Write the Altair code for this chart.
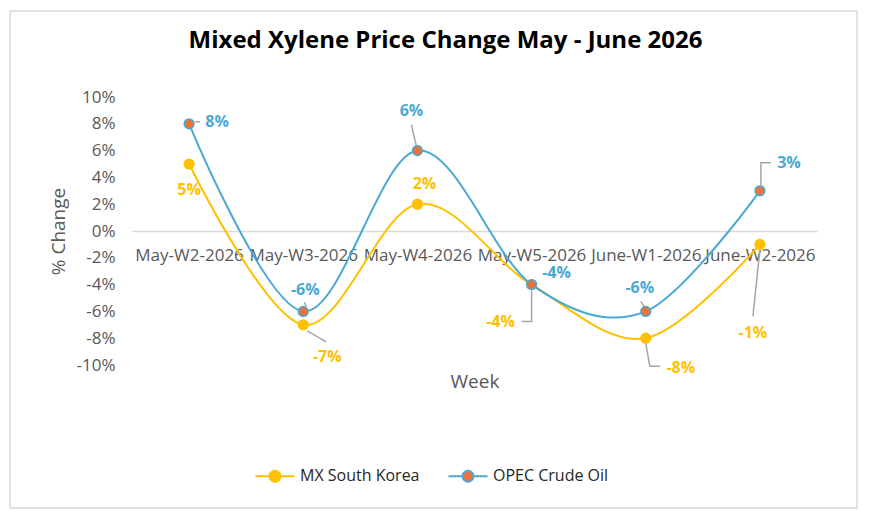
import json
import altair as alt
import pandas as pd

# ---------------- data ----------------
weeks = ["May-W2-2026", "May-W3-2026", "May-W4-2026", "May-W5-2026", "June-W1-2026", "June-W2-2026"]
mx_south_korea = [5, -7, 2, -4, -8, -1]
opec_crude_oil = [8, -6, 6, -4, -6, 3]
series_names = ["MX South Korea", "OPEC Crude Oil"]

# ---------------- style ----------------
FONT = "Open Sans"
YELLOW = "#FFC000"
BLUE = "#4AA8D4"
ORANGE = "#E8743B"
GREY_TXT = "#595959"
LEADER = "#A6A6A6"
W, H = 685, 268
PX_X = W / len(weeks)   # px per category
PX_Y = H / 20.0         # px per 1 %

# label offsets (pixels from the point) and leader polylines (pixel offsets)
label_off = {
    "MX South Korea": [(0, 26), (24, 32), (7, -20), (-31, 37), (35, 30), (-7, 89)],
    "OPEC Crude Oil": [(28, -2), (2, -21), (-6, -40), (25, -12), (-6, -23), (29, -28)],
}
leader_off = {
    "MX South Korea": [None, [(4, 6), (23, 17)], None, [(0, 6), (0, 37), (-10, 37)],
                       [(0, 5), (4, 28), (14, 28)], [(0, 5), (-7, 72)]],
    "OPEC Crude Oil": [[(6, -2), (11, -2)], [(1, -9), (3, -5)], [(-6, -26), (-1, -4)], None,
                       [(-5, -10), (-1, -4)], [(1, -5), (1, -28), (11, -28)]],
}

rows, trows, lrows = [], [], []
for s, vals in zip(series_names, [mx_south_korea, opec_crude_oil]):
    for i, v in enumerate(vals):
        dx, dy = label_off[s][i]
        rows.append({"series": s, "x": i, "y": v})
        trows.append({"series": s, "label": f"{v}%", "x": i + dx / PX_X, "y": v - dy / PX_Y})
        seg = leader_off[s][i]
        if seg:
            for k, (ox, oy) in enumerate(seg):
                lrows.append({"seg": f"{s}-{i}", "k": k, "x": i + ox / PX_X, "y": v - oy / PX_Y})
df = pd.DataFrame(rows)
tdf = pd.DataFrame(trows)
ldf = pd.DataFrame(lrows)

label_expr = json.dumps(weeks) + "[datum.value]"

x_scale = alt.Scale(domain=[-0.5, len(weeks) - 0.5], nice=False, zero=False)
y_scale = alt.Scale(domain=[-10, 10], nice=False, zero=False)

x_axis = alt.Axis(values=list(range(len(weeks))), labelExpr=label_expr, orient="bottom",
                  offset=-(H / 2), grid=False, ticks=False, tickSize=0, domainColor="#D9D9D9",
                  domainWidth=1.5, labelFont=FONT, labelFontSize=17, labelColor=GREY_TXT,
                  labelPadding=16, labelOverlap=False, labelFlush=False,
                  title="Week", titleFont=FONT, titleFontSize=19, titleFontWeight="normal",
                  titleColor=GREY_TXT, titlePadding=109)
y_axis = alt.Axis(values=list(range(-10, 11, 2)), labelExpr="datum.value + '%'", grid=False,
                  domain=False, ticks=False, tickSize=0, labelFont=FONT, labelFontSize=17,
                  labelColor=GREY_TXT, labelPadding=17, labelOverlap=False,
                  labelBound=False, labelFlush=False, tickCount=11,
                  title="% Change", titleFont=FONT,
                  titleFontSize=19, titleFontWeight="normal", titleColor=GREY_TXT,
                  titlePadding=8)


def xe():
    return alt.X("x:Q", scale=x_scale, axis=x_axis)


def ye():
    return alt.Y("y:Q", scale=y_scale, axis=y_axis)


stroke_scale = alt.Scale(domain=series_names, range=[YELLOW, BLUE])
fill_scale = alt.Scale(domain=series_names, range=[YELLOW, ORANGE])

legend = alt.Legend(title=None, orient="none", legendX=135, legendY=371, direction="horizontal",
                    symbolType="M-3.9,0L-1.1,0M1.1,0L3.9,0M1.1,0A1.1,1.1,0,1,1,-1.1,0A1.1,1.1,0,1,1,1.1,0Z",
                    symbolSize=100, symbolStrokeWidth=2, labelOffset=17, columnPadding=24,
                    labelFont=FONT, labelFontSize=16, labelColor="#262626")

lines = alt.Chart(df).mark_line(interpolate="cardinal", strokeWidth=2).encode(
    x=xe(), y=ye(), stroke=alt.Stroke("series:N", scale=stroke_scale, legend=legend),
    order="x:Q")

points = alt.Chart(df).mark_point(filled=True, size=95, strokeWidth=1.5, opacity=1).encode(
    x=xe(), y=ye(),
    fill=alt.Fill("series:N", scale=fill_scale, legend=legend),
    stroke=alt.Stroke("series:N", scale=stroke_scale, legend=legend))

leaders = alt.Chart(ldf).mark_line(color=LEADER, strokeWidth=1.5).encode(
    x=xe(), y=ye(), detail="seg:N", order="k:Q")

labels = alt.Chart(tdf).mark_text(font=FONT, fontSize=16, fontWeight="bold", align="center",
                                  baseline="middle").encode(
    x=xe(), y=ye(), text="label:N",
    color=alt.Color("series:N", scale=alt.Scale(domain=series_names, range=[YELLOW, BLUE]),
                    legend=None))

border = alt.Chart(pd.DataFrame({"a": [0]})).mark_rect(fill=None, stroke="#D9D9D9",
                                                       strokeWidth=1.5).encode(
    x=alt.value(-122), x2=alt.value(725), y=alt.value(-86), y2=alt.value(411))

chart = alt.layer(border, lines, leaders, points, labels).properties(
    width=W, height=H,
    background="white",
    autosize=alt.AutoSizeParams(type="none"),
    padding={"left": 132, "top": 97, "right": 58, "bottom": 158},
    title=alt.TitleParams("Mixed Xylene Price Change May - June 2026", font=FONT, fontSize=24,
                          fontWeight="bold", color="#000000", anchor="middle", dx=-29, offset=-43),
).configure_view(strokeWidth=0, stroke="transparent").configure_axis(
    grid=False, labelOverlap=False, labelFlush=False)

chart.save("out.html", embed_options={"renderer": "svg", "actions": False})
